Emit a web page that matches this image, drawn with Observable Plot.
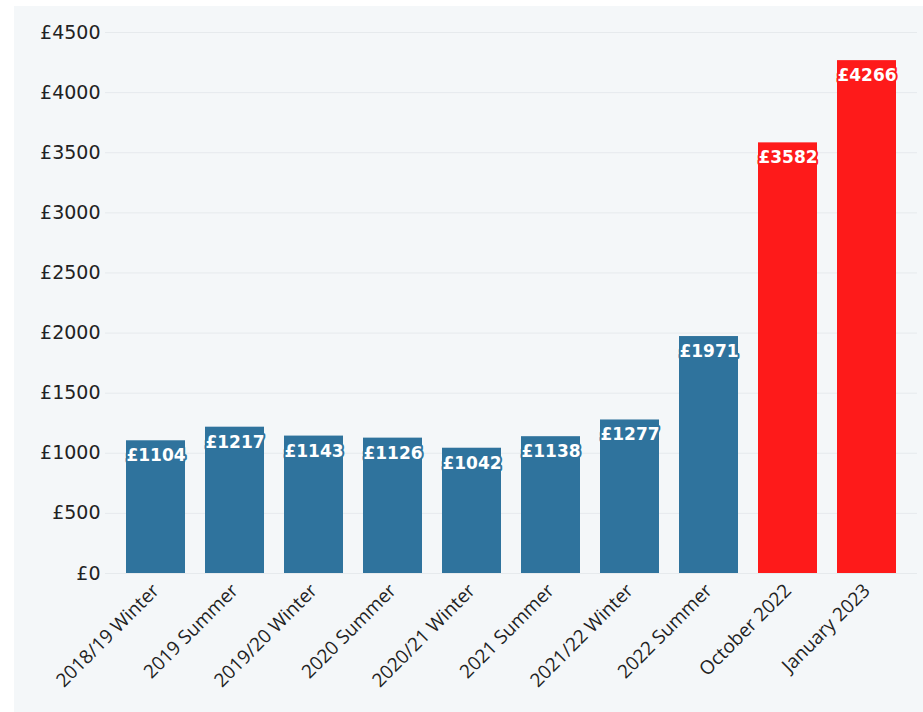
<!DOCTYPE html>
<html>
<head>
<meta charset="utf-8">
<script src="https://cdn.jsdelivr.net/npm/d3@7"></script>
<script src="https://cdn.jsdelivr.net/npm/@observablehq/plot@0.6"></script>
<style>
  html, body { margin: 0; padding: 0; background: #ffffff; }
  #chart { position: absolute; left: 14px; top: 6px; width: 909px; height: 706px; background: #f4f7f9; }
  #chart svg { background: #f4f7f9; }
</style>
</head>
<body>
<div id="chart"></div>
<script>
const periods = ["2018/19 Winter", "2019 Summer", "2019/20 Winter", "2020 Summer", "2020/21 Winter",
  "2021 Summer", "2021/22 Winter", "2022 Summer", "October 2022", "January 2023"];
const prices = [1104, 1217, 1143, 1126, 1042, 1138, 1277, 1971, 3582, 4266];
const kinds = ["actual", "actual", "actual", "actual", "actual", "actual", "actual", "actual", "forecast", "forecast"];
const yTicks = [0, 500, 1000, 1500, 2000, 2500, 3000, 3500, 4000, 4500];

const data = periods.map((p, i) => ({period: p, price: prices[i], kind: kinds[i]}));
const colorOf = k => k === "forecast" ? "#fe1a1a" : "#2f739d";

const chart = Plot.plot({
  width: 909,
  height: 706,
  marginLeft: 91,
  marginRight: 6,
  marginTop: 26,
  marginBottom: 139,
  style: {background: "#f4f7f9", fontFamily: "Open Sans, sans-serif", color: "#222"},
  x: {domain: periods, padding: 0.25, label: null},
  y: {domain: [0, 4500], label: null},
  marks: [
    Plot.gridY(yTicks, {stroke: "#e6eaed", strokeOpacity: 1}),
    Plot.barY(data, {x: "period", y: "price", fill: d => colorOf(d.kind)}),
    Plot.text(data, {
      x: "period", y: "price", text: d => "£" + d.price, dy: 15,
      fill: "white", stroke: d => colorOf(d.kind), strokeWidth: 4,
      fontFamily: "DejaVu Sans, sans-serif",
      fontSize: 17, fontWeight: "bold", lineAnchor: "middle"
    }),
    Plot.axisX({tickSize: 0, tickRotate: -45, fontSize: 19, tickPadding: 14, label: null, fill: "#222"}),
    Plot.axisY(yTicks, {tickSize: 0, tickPadding: 5, fontSize: 19, fontFamily: "DejaVu Sans, sans-serif",
      tickFormat: d => "£" + d, label: null, fill: "#222"})
  ]
});
document.getElementById("chart").appendChild(chart);
</script>
</body>
</html>
